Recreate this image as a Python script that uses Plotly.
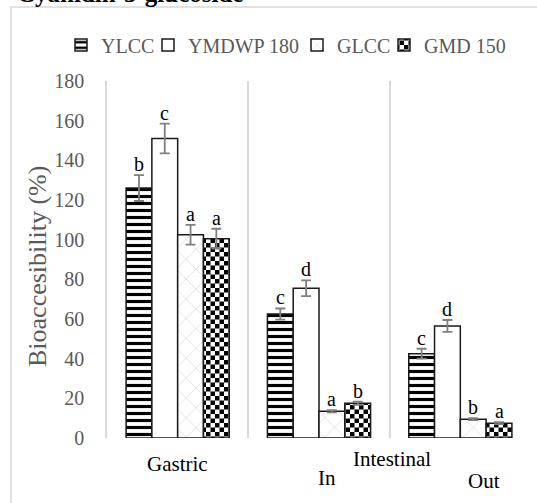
import plotly.graph_objects as go

# ---- data -------------------------------------------------------------
categories = ["Gastric", "In", "Out"]
series_names = ["YLCC", "YMDWP 180", "GLCC", "GMD 150"]

ylcc = [126, 62.5, 42.5]
ylcc_err = [6.5, 2.8, 2.5]
ymdwp = [151, 75.5, 56.5]
ymdwp_err = [7.5, 4.0, 3.0]
glcc = [102.5, 13.5, 9.5]
glcc_err = [5.0, 0.6, 0.5]
gmd = [100.5, 17.5, 7.5]
gmd_err = [5.0, 0.8, 0.5]

ylcc_letters = ["b", "c", "c"]
ymdwp_letters = ["c", "d", "d"]
glcc_letters = ["a", "a", "b"]
gmd_letters = ["a", "b", "a"]

y_ticks = [0, 20, 40, 60, 80, 100, 120, 140, 160, 180]

# ---- layout geometry (pixels) ----------------------------------------
W, H = 537, 503
L, R, T, B = 107, 6, 81, 65
PW, PH = W - L - R, H - T - B
BARGAP = 0.27


def px_x(px):
    return (px - L) / PW


def px_y(py):
    return (H - B - py) / PH


FONT = "Liberation Serif"
GRAY_TXT = "#595959"
OUTLINE = dict(color="#1a1a1a", width=1.5)
ERR_STYLE = dict(color="#808080", thickness=1.8, width=5)

values = [ylcc, ymdwp, glcc, gmd]
errors = [ylcc_err, ymdwp_err, glcc_err, gmd_err]
letters = [ylcc_letters, ymdwp_letters, glcc_letters, gmd_letters]
patterns = [
    dict(shape="-", fgcolor="#000000", bgcolor="#ffffff", size=7, solidity=0.45, fillmode="replace"),
    dict(shape=""),
    dict(shape="x", fgcolor="#cfcfcf", bgcolor="#ffffff", size=14, solidity=0.08, fillmode="replace"),
    dict(shape=".", fgcolor="#000000", bgcolor="#ffffff", size=9, solidity=0.5, fillmode="replace"),
]
# one legend box per series so every entry sits at its own spot on the key line
legend_ids = ["legend", "legend2", "legend3", "legend4"]
legend_left_px = [61, 148, 297, 384]

fig = go.Figure()
for name, vals, errs, pat, lg in zip(series_names, values, errors, patterns, legend_ids):
    fig.add_trace(go.Bar(
        name=name, x=categories, y=vals, legend=lg,
        marker=dict(color="#ffffff", line=OUTLINE, pattern=pat),
        error_y=dict(type="data", array=errs, visible=True, **ERR_STYLE),
    ))

# significance letters above each error bar
cat_px = PW / len(categories)
bar_px = cat_px * (1 - BARGAP) / len(series_names)
annotations = []
for i, (vals, errs, labs) in enumerate(zip(values, errors, letters)):
    for cat, v, e, lab in zip(categories, vals, errs, labs):
        annotations.append(dict(
            x=cat, y=v + e, xref="x", yref="y", text=lab, showarrow=False,
            xshift=(i - 1.5) * bar_px, yanchor="bottom", yshift=-2,
            font=dict(family=FONT, size=20, color="#000000"),
        ))

# category captions
for text, cx, cy in [("Gastric", 177, 464), ("Intestinal", 392, 459),
                     ("In", 327, 478), ("Out", 484, 481)]:
    annotations.append(dict(
        x=px_x(cx), y=px_y(cy), xref="paper", yref="paper", text=text,
        showarrow=False, xanchor="center", yanchor="middle",
        font=dict(family=FONT, size=21, color="#000000"),
    ))

# y-axis title
annotations.append(dict(
    x=px_x(37), y=px_y(267), xref="paper", yref="paper",
    text="Bioaccesibility (%)", textangle=-90, showarrow=False,
    xanchor="center", yanchor="middle",
    font=dict(family=FONT, size=26, color=GRAY_TXT),
))

# heading sitting at the very top edge
annotations.append(dict(
    x=px_x(15), y=px_y(9), xref="paper", yref="paper",
    text="<b>Cyanidin-3-glucoside</b>", showarrow=False,
    xanchor="left", yanchor="bottom",
    font=dict(family=FONT, size=25, color="#000000"),
))

legend_style = dict(
    orientation="h", xanchor="left", y=px_y(45), yanchor="middle",
    font=dict(family=FONT, size=20, color=GRAY_TXT),
    bgcolor="rgba(0,0,0,0)", traceorder="normal",
)
legends = {lg: dict(x=px_x(lx), **legend_style) for lg, lx in zip(legend_ids, legend_left_px)}

fig.update_layout(
    width=W, height=H,
    margin=dict(l=L, r=R, t=T, b=B, autoexpand=False),
    paper_bgcolor="#ffffff", plot_bgcolor="#ffffff",
    barmode="group", bargap=BARGAP, bargroupgap=0,
    font=dict(family=FONT, size=20, color=GRAY_TXT),
    showlegend=True,
    annotations=annotations,
    shapes=[dict(
        type="rect", xref="paper", yref="paper",
        x0=px_x(11), y0=px_y(7), x1=px_x(W + 20), y1=px_y(H + 20),
        line=dict(color="#d9d9d9", width=1.5), fillcolor="rgba(0,0,0,0)", layer="below",
    )],
    xaxis=dict(
        showticklabels=False, ticks="", tickson="boundaries",
        showgrid=True, gridcolor="#d9d9d9", gridwidth=1.5,
        showline=False, zeroline=False,
    ),
    yaxis=dict(
        range=[0, 180], tickvals=y_ticks, ticks="", ticklabelstandoff=17,
        tickfont=dict(family=FONT, size=20, color=GRAY_TXT),
        showgrid=False, zeroline=False,
        showline=True, linecolor="#d9d9d9", linewidth=1.5,
    ),
    **legends,
)

# checkerboard fill for the GMD 150 series
checker_js = """
var gd = document.getElementById('{plot_id}');
var NS = 'http://www.w3.org/2000/svg';
var defs = gd.querySelector('svg.main-svg defs');
var pat = document.createElementNS(NS, 'pattern');
pat.setAttribute('id', 'gmdchecker');
pat.setAttribute('patternUnits', 'userSpaceOnUse');
pat.setAttribute('width', '9');
pat.setAttribute('height', '9');
[[0, 0, 9, 9, '#ffffff'], [0, 0, 4.5, 4.5, '#000000'], [4.5, 4.5, 4.5, 4.5, '#000000']].forEach(function (r) {
  var e = document.createElementNS(NS, 'rect');
  e.setAttribute('x', r[0]); e.setAttribute('y', r[1]);
  e.setAttribute('width', r[2]); e.setAttribute('height', r[3]);
  e.setAttribute('fill', r[4]);
  pat.appendChild(e);
});
defs.appendChild(pat);
var tr = gd.querySelectorAll('.barlayer .trace')[3];
if (tr) { tr.querySelectorAll('.point path').forEach(function (p) { p.style.fill = 'url(#gmdchecker)'; }); }
gd.querySelectorAll('.traces').forEach(function (g) {
  var t = g.textContent || '';
  if (t.indexOf('GMD') >= 0) {
    g.querySelectorAll('.legendpoints path').forEach(function (p) { p.style.fill = 'url(#gmdchecker)'; });
  }
});
"""

fig.write_html("out.html", post_script=checker_js)
